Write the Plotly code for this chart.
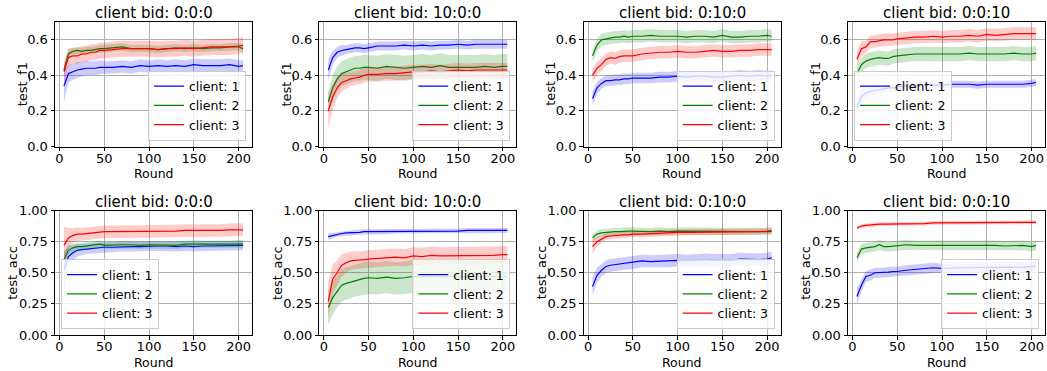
import plotly.graph_objects as go

ROUNDS = [5, 10, 15, 20, 25, 30, 35, 40, 45, 50, 60, 70, 80, 90, 100, 110, 120, 130, 140, 150, 160, 170, 180, 190, 200, 205]

# ---- test_f1, bid 0:0:0
f1_b000_c1 = [0.34, 0.41, 0.42, 0.43, 0.435, 0.44, 0.44, 0.44, 0.445, 0.445, 0.445, 0.45, 0.445, 0.455, 0.45, 0.455, 0.45, 0.455, 0.45, 0.46, 0.455, 0.455, 0.455, 0.46, 0.45, 0.455]
f1_b000_c1_sd = [0.09, 0.05, 0.045, 0.045, 0.04, 0.04, 0.04, 0.04, 0.04, 0.035, 0.035, 0.035, 0.035, 0.035, 0.035, 0.035, 0.035, 0.035, 0.035, 0.035, 0.035, 0.035, 0.035, 0.035, 0.035, 0.03]
f1_b000_c2 = [0.43, 0.52, 0.535, 0.54, 0.535, 0.54, 0.54, 0.545, 0.55, 0.55, 0.555, 0.56, 0.55, 0.55, 0.55, 0.545, 0.55, 0.555, 0.55, 0.555, 0.55, 0.555, 0.555, 0.56, 0.56, 0.55]
f1_b000_c2_sd = [0.03, 0.025, 0.02, 0.02, 0.02, 0.02, 0.02, 0.02, 0.02, 0.02, 0.02, 0.02, 0.02, 0.02, 0.02, 0.02, 0.02, 0.02, 0.02, 0.02, 0.02, 0.02, 0.02, 0.02, 0.02, 0.02]
f1_b000_c3 = [0.42, 0.50, 0.51, 0.51, 0.52, 0.52, 0.53, 0.53, 0.54, 0.54, 0.545, 0.55, 0.55, 0.55, 0.55, 0.545, 0.55, 0.55, 0.555, 0.55, 0.555, 0.56, 0.56, 0.56, 0.565, 0.57]
f1_b000_c3_sd = [0.06, 0.05, 0.045, 0.045, 0.045, 0.045, 0.045, 0.045, 0.045, 0.045, 0.045, 0.045, 0.045, 0.045, 0.045, 0.045, 0.045, 0.045, 0.045, 0.045, 0.045, 0.045, 0.045, 0.045, 0.045, 0.045]

# ---- test_f1, bid 10:0:0
f1_b100_c1 = [0.43, 0.50, 0.53, 0.54, 0.545, 0.55, 0.555, 0.555, 0.55, 0.555, 0.565, 0.565, 0.565, 0.57, 0.565, 0.57, 0.565, 0.57, 0.57, 0.575, 0.57, 0.575, 0.575, 0.575, 0.575, 0.575]
f1_b100_c1_sd = [0.06, 0.04, 0.03, 0.03, 0.025, 0.025, 0.025, 0.025, 0.025, 0.025, 0.025, 0.025, 0.025, 0.025, 0.025, 0.025, 0.025, 0.025, 0.025, 0.025, 0.025, 0.025, 0.025, 0.025, 0.025, 0.025]
f1_b100_c2 = [0.25, 0.33, 0.38, 0.41, 0.42, 0.43, 0.44, 0.44, 0.445, 0.445, 0.44, 0.45, 0.445, 0.44, 0.445, 0.45, 0.445, 0.455, 0.445, 0.445, 0.445, 0.445, 0.45, 0.445, 0.45, 0.45]
f1_b100_c2_sd = [0.06, 0.07, 0.07, 0.07, 0.07, 0.07, 0.07, 0.07, 0.07, 0.07, 0.07, 0.07, 0.07, 0.07, 0.07, 0.07, 0.07, 0.07, 0.07, 0.07, 0.07, 0.07, 0.07, 0.07, 0.07, 0.07]
f1_b100_c3 = [0.20, 0.28, 0.33, 0.36, 0.37, 0.38, 0.385, 0.39, 0.40, 0.405, 0.405, 0.41, 0.41, 0.415, 0.42, 0.42, 0.425, 0.42, 0.425, 0.43, 0.425, 0.43, 0.43, 0.43, 0.43, 0.43]
f1_b100_c3_sd = [0.10, 0.07, 0.06, 0.05, 0.045, 0.04, 0.04, 0.04, 0.04, 0.04, 0.04, 0.04, 0.04, 0.04, 0.04, 0.04, 0.04, 0.04, 0.04, 0.04, 0.04, 0.04, 0.04, 0.04, 0.04, 0.04]

# ---- test_f1, bid 0:10:0
f1_b010_c1 = [0.27, 0.33, 0.355, 0.37, 0.37, 0.375, 0.375, 0.38, 0.38, 0.385, 0.385, 0.385, 0.39, 0.39, 0.395, 0.39, 0.395, 0.395, 0.39, 0.39, 0.395, 0.40, 0.395, 0.40, 0.395, 0.40]
f1_b010_c1_sd = [0.04, 0.035, 0.03, 0.03, 0.03, 0.03, 0.03, 0.03, 0.03, 0.03, 0.03, 0.03, 0.03, 0.03, 0.03, 0.03, 0.03, 0.03, 0.03, 0.03, 0.03, 0.03, 0.03, 0.03, 0.03, 0.03]
f1_b010_c2 = [0.51, 0.57, 0.60, 0.605, 0.61, 0.615, 0.615, 0.62, 0.615, 0.62, 0.62, 0.625, 0.62, 0.62, 0.62, 0.615, 0.62, 0.62, 0.615, 0.625, 0.615, 0.615, 0.62, 0.62, 0.625, 0.62]
f1_b010_c2_sd = [0.035, 0.035, 0.035, 0.035, 0.035, 0.035, 0.035, 0.035, 0.035, 0.035, 0.035, 0.035, 0.035, 0.035, 0.035, 0.035, 0.035, 0.035, 0.035, 0.035, 0.035, 0.035, 0.035, 0.035, 0.035, 0.035]
f1_b010_c3 = [0.40, 0.44, 0.46, 0.49, 0.50, 0.495, 0.505, 0.51, 0.51, 0.51, 0.52, 0.525, 0.53, 0.53, 0.535, 0.53, 0.53, 0.535, 0.54, 0.535, 0.535, 0.54, 0.54, 0.545, 0.545, 0.545]
f1_b010_c3_sd = [0.04, 0.035, 0.035, 0.035, 0.035, 0.035, 0.035, 0.035, 0.035, 0.035, 0.035, 0.035, 0.035, 0.035, 0.035, 0.035, 0.035, 0.035, 0.035, 0.035, 0.035, 0.035, 0.035, 0.035, 0.035, 0.035]

# ---- test_f1, bid 0:0:10
f1_b001_c1 = [0.22, 0.28, 0.30, 0.31, 0.315, 0.32, 0.325, 0.33, 0.33, 0.335, 0.34, 0.34, 0.345, 0.345, 0.345, 0.35, 0.35, 0.35, 0.345, 0.35, 0.35, 0.35, 0.35, 0.35, 0.355, 0.36]
f1_b001_c1_sd = [0.05, 0.04, 0.03, 0.025, 0.02, 0.02, 0.02, 0.02, 0.02, 0.02, 0.02, 0.02, 0.02, 0.02, 0.02, 0.02, 0.02, 0.02, 0.02, 0.02, 0.02, 0.02, 0.02, 0.02, 0.02, 0.02]
f1_b001_c2 = [0.41, 0.46, 0.48, 0.49, 0.495, 0.50, 0.495, 0.495, 0.505, 0.51, 0.515, 0.52, 0.52, 0.52, 0.52, 0.52, 0.52, 0.525, 0.52, 0.52, 0.52, 0.52, 0.525, 0.52, 0.52, 0.525]
f1_b001_c2_sd = [0.04, 0.04, 0.04, 0.04, 0.04, 0.04, 0.04, 0.04, 0.04, 0.04, 0.04, 0.04, 0.04, 0.04, 0.04, 0.04, 0.04, 0.04, 0.04, 0.04, 0.04, 0.04, 0.04, 0.04, 0.04, 0.04]
f1_b001_c3 = [0.49, 0.55, 0.56, 0.59, 0.59, 0.595, 0.60, 0.60, 0.60, 0.605, 0.61, 0.615, 0.615, 0.62, 0.615, 0.62, 0.62, 0.625, 0.62, 0.63, 0.625, 0.63, 0.635, 0.635, 0.635, 0.635]
f1_b001_c3_sd = [0.04, 0.04, 0.035, 0.035, 0.035, 0.035, 0.035, 0.035, 0.035, 0.035, 0.035, 0.035, 0.035, 0.035, 0.035, 0.035, 0.035, 0.035, 0.035, 0.035, 0.035, 0.035, 0.035, 0.035, 0.035, 0.035]

# ---- test_acc, bid 0:0:0
acc_b000_c1 = [0.52, 0.63, 0.66, 0.68, 0.685, 0.69, 0.695, 0.70, 0.70, 0.705, 0.705, 0.71, 0.71, 0.71, 0.715, 0.715, 0.715, 0.71, 0.715, 0.71, 0.715, 0.715, 0.715, 0.715, 0.72, 0.72]
acc_b000_c1_sd = [0.15, 0.08, 0.06, 0.05, 0.045, 0.04, 0.04, 0.04, 0.04, 0.04, 0.04, 0.04, 0.04, 0.04, 0.04, 0.04, 0.04, 0.04, 0.04, 0.04, 0.04, 0.04, 0.04, 0.04, 0.04, 0.04]
acc_b000_c2 = [0.60, 0.68, 0.70, 0.71, 0.71, 0.715, 0.72, 0.725, 0.73, 0.72, 0.725, 0.725, 0.725, 0.72, 0.725, 0.725, 0.725, 0.72, 0.73, 0.73, 0.725, 0.725, 0.73, 0.73, 0.73, 0.73]
acc_b000_c2_sd = [0.06, 0.04, 0.03, 0.03, 0.03, 0.03, 0.03, 0.03, 0.03, 0.03, 0.03, 0.03, 0.03, 0.03, 0.03, 0.03, 0.03, 0.03, 0.03, 0.03, 0.03, 0.03, 0.03, 0.03, 0.03, 0.03]
acc_b000_c3 = [0.72, 0.78, 0.80, 0.81, 0.81, 0.815, 0.82, 0.82, 0.825, 0.83, 0.83, 0.83, 0.835, 0.83, 0.83, 0.835, 0.835, 0.835, 0.84, 0.84, 0.835, 0.84, 0.84, 0.845, 0.845, 0.845]
acc_b000_c3_sd = [0.15, 0.08, 0.06, 0.055, 0.05, 0.05, 0.05, 0.05, 0.05, 0.05, 0.05, 0.05, 0.05, 0.05, 0.05, 0.05, 0.05, 0.05, 0.05, 0.05, 0.05, 0.05, 0.05, 0.05, 0.05, 0.05]

# ---- test_acc, bid 10:0:0
acc_b100_c1 = [0.79, 0.80, 0.81, 0.815, 0.82, 0.82, 0.825, 0.825, 0.83, 0.83, 0.83, 0.83, 0.835, 0.835, 0.835, 0.835, 0.835, 0.835, 0.835, 0.835, 0.84, 0.84, 0.84, 0.84, 0.84, 0.84]
acc_b100_c1_sd = [0.025, 0.02, 0.02, 0.02, 0.02, 0.02, 0.02, 0.02, 0.02, 0.02, 0.02, 0.02, 0.02, 0.02, 0.02, 0.02, 0.02, 0.02, 0.02, 0.02, 0.02, 0.02, 0.02, 0.02, 0.02, 0.02]
acc_b100_c2 = [0.22, 0.30, 0.35, 0.40, 0.415, 0.425, 0.44, 0.445, 0.455, 0.46, 0.455, 0.465, 0.455, 0.46, 0.47, 0.465, 0.47, 0.465, 0.47, 0.47, 0.465, 0.47, 0.47, 0.47, 0.47, 0.47]
acc_b100_c2_sd = [0.14, 0.14, 0.13, 0.13, 0.13, 0.13, 0.13, 0.13, 0.13, 0.13, 0.13, 0.13, 0.13, 0.13, 0.13, 0.13, 0.13, 0.13, 0.13, 0.13, 0.13, 0.13, 0.13, 0.13, 0.13, 0.13]
acc_b100_c3 = [0.27, 0.45, 0.50, 0.56, 0.58, 0.595, 0.60, 0.60, 0.605, 0.61, 0.615, 0.62, 0.625, 0.62, 0.635, 0.63, 0.64, 0.635, 0.635, 0.64, 0.635, 0.635, 0.64, 0.64, 0.645, 0.645]
acc_b100_c3_sd = [0.15, 0.12, 0.10, 0.09, 0.08, 0.075, 0.07, 0.07, 0.07, 0.07, 0.07, 0.07, 0.07, 0.07, 0.07, 0.07, 0.07, 0.07, 0.07, 0.07, 0.07, 0.07, 0.07, 0.07, 0.07, 0.07]

# ---- test_acc, bid 0:10:0
acc_b010_c1 = [0.39, 0.48, 0.52, 0.55, 0.56, 0.565, 0.57, 0.575, 0.58, 0.58, 0.595, 0.59, 0.595, 0.595, 0.60, 0.595, 0.60, 0.605, 0.60, 0.60, 0.60, 0.61, 0.605, 0.605, 0.61, 0.62]
acc_b010_c1_sd = [0.07, 0.06, 0.05, 0.05, 0.05, 0.05, 0.05, 0.05, 0.05, 0.05, 0.05, 0.05, 0.05, 0.05, 0.05, 0.05, 0.05, 0.05, 0.05, 0.05, 0.05, 0.05, 0.05, 0.05, 0.05, 0.05]
acc_b010_c2 = [0.78, 0.81, 0.82, 0.825, 0.825, 0.83, 0.83, 0.835, 0.835, 0.835, 0.83, 0.83, 0.835, 0.83, 0.835, 0.835, 0.835, 0.83, 0.835, 0.835, 0.835, 0.835, 0.835, 0.835, 0.835, 0.83]
acc_b010_c2_sd = [0.03, 0.03, 0.03, 0.03, 0.03, 0.03, 0.03, 0.03, 0.03, 0.03, 0.03, 0.03, 0.03, 0.03, 0.03, 0.03, 0.03, 0.03, 0.03, 0.03, 0.03, 0.03, 0.03, 0.03, 0.03, 0.03]
acc_b010_c3 = [0.71, 0.75, 0.77, 0.79, 0.795, 0.80, 0.80, 0.805, 0.805, 0.81, 0.81, 0.815, 0.815, 0.82, 0.825, 0.825, 0.825, 0.825, 0.83, 0.83, 0.83, 0.83, 0.83, 0.83, 0.835, 0.84]
acc_b010_c3_sd = [0.06, 0.04, 0.03, 0.025, 0.025, 0.025, 0.025, 0.025, 0.025, 0.025, 0.025, 0.025, 0.025, 0.025, 0.025, 0.025, 0.025, 0.025, 0.025, 0.025, 0.025, 0.025, 0.025, 0.025, 0.025, 0.025]

# ---- test_acc, bid 0:0:10
acc_b001_c1 = [0.31, 0.40, 0.47, 0.48, 0.50, 0.50, 0.50, 0.505, 0.51, 0.51, 0.52, 0.525, 0.53, 0.54, 0.535, 0.54, 0.54, 0.54, 0.54, 0.54, 0.54, 0.54, 0.54, 0.545, 0.55, 0.555]
acc_b001_c1_sd = [0.07, 0.05, 0.045, 0.045, 0.04, 0.04, 0.04, 0.04, 0.04, 0.04, 0.04, 0.04, 0.04, 0.04, 0.04, 0.04, 0.04, 0.04, 0.04, 0.04, 0.04, 0.04, 0.04, 0.04, 0.04, 0.04]
acc_b001_c2 = [0.62, 0.69, 0.70, 0.705, 0.71, 0.725, 0.71, 0.71, 0.715, 0.715, 0.725, 0.72, 0.72, 0.725, 0.72, 0.72, 0.72, 0.72, 0.72, 0.72, 0.72, 0.715, 0.72, 0.72, 0.71, 0.72]
acc_b001_c2_sd = [0.04, 0.04, 0.04, 0.04, 0.04, 0.04, 0.04, 0.04, 0.04, 0.04, 0.04, 0.04, 0.04, 0.04, 0.04, 0.04, 0.04, 0.04, 0.04, 0.04, 0.04, 0.04, 0.04, 0.04, 0.04, 0.04]
acc_b001_c3 = [0.86, 0.875, 0.88, 0.885, 0.885, 0.89, 0.89, 0.89, 0.895, 0.895, 0.895, 0.895, 0.895, 0.90, 0.90, 0.90, 0.90, 0.90, 0.905, 0.905, 0.905, 0.905, 0.905, 0.905, 0.905, 0.905]
acc_b001_c3_sd = [0.015, 0.015, 0.015, 0.015, 0.015, 0.015, 0.015, 0.015, 0.015, 0.015, 0.015, 0.015, 0.015, 0.015, 0.015, 0.015, 0.015, 0.015, 0.015, 0.015, 0.015, 0.015, 0.015, 0.015, 0.015, 0.015]

CLIENT_NAMES = ["client: 1", "client: 2", "client: 3"]
BIDS = ["0:0:0", "10:0:0", "0:10:0", "0:0:10"]
F1_TICKS = [0.0, 0.2, 0.4, 0.6]
F1_TICKTEXT = ["0.0", "0.2", "0.4", "0.6"]
ACC_TICKS = [0.0, 0.25, 0.5, 0.75, 1.0]
ACC_TICKTEXT = ["0.00", "0.25", "0.50", "0.75", "1.00"]
X_TICKS = [0, 50, 100, 150, 200]

PANELS = [
    ("test_f1", BIDS[0], [(f1_b000_c1, f1_b000_c1_sd), (f1_b000_c2, f1_b000_c2_sd), (f1_b000_c3, f1_b000_c3_sd)], "right"),
    ("test_f1", BIDS[1], [(f1_b100_c1, f1_b100_c1_sd), (f1_b100_c2, f1_b100_c2_sd), (f1_b100_c3, f1_b100_c3_sd)], "right"),
    ("test_f1", BIDS[2], [(f1_b010_c1, f1_b010_c1_sd), (f1_b010_c2, f1_b010_c2_sd), (f1_b010_c3, f1_b010_c3_sd)], "right"),
    ("test_f1", BIDS[3], [(f1_b001_c1, f1_b001_c1_sd), (f1_b001_c2, f1_b001_c2_sd), (f1_b001_c3, f1_b001_c3_sd)], "left"),
    ("test_acc", BIDS[0], [(acc_b000_c1, acc_b000_c1_sd), (acc_b000_c2, acc_b000_c2_sd), (acc_b000_c3, acc_b000_c3_sd)], "left"),
    ("test_acc", BIDS[1], [(acc_b100_c1, acc_b100_c1_sd), (acc_b100_c2, acc_b100_c2_sd), (acc_b100_c3, acc_b100_c3_sd)], "right"),
    ("test_acc", BIDS[2], [(acc_b010_c1, acc_b010_c1_sd), (acc_b010_c2, acc_b010_c2_sd), (acc_b010_c3, acc_b010_c3_sd)], "right"),
    ("test_acc", BIDS[3], [(acc_b001_c1, acc_b001_c1_sd), (acc_b001_c2, acc_b001_c2_sd), (acc_b001_c3, acc_b001_c3_sd)], "right"),
]

LINE_COLORS = ["#0000ff", "#008000", "#ff0000"]
FILL_COLORS = ["rgba(0,0,255,0.2)", "rgba(0,128,0,0.2)", "rgba(255,0,0,0.2)"]

W, H = 1047, 371
FONT = "DejaVu Sans"
COL_LEFT = [55, 319.3, 583.6, 848]
AX_W = 197
ROW_TOP = [22, 210.5]
AX_H = 124.5


def px_x(p):
    return p / W


def px_y(p):
    return 1 - p / H


fig = go.Figure()
annotations = []
layout = dict(
    template="none",
    width=W, height=H, margin=dict(l=0, r=0, t=0, b=0, pad=0, autoexpand=False),
    paper_bgcolor="white", plot_bgcolor="white",
    font=dict(family=FONT, size=13, color="black"),
    showlegend=True,
)

for i, (metric, bid, series, legend_side) in enumerate(PANELS):
    row, col = divmod(i, 4)
    n = i + 1
    xa = "x" if n == 1 else f"x{n}"
    ya = "y" if n == 1 else f"y{n}"
    legend_name = "legend" if n == 1 else f"legend{n}"
    left, right = COL_LEFT[col], COL_LEFT[col] + AX_W
    top, bottom = ROW_TOP[row], ROW_TOP[row] + AX_H

    for k, (mean, sd) in enumerate(series):
        upper = [m + s for m, s in zip(mean, sd)]
        lower = [m - s for m, s in zip(mean, sd)]
        fig.add_trace(go.Scatter(
            x=ROUNDS + ROUNDS[::-1], y=upper + lower[::-1],
            fill="toself", fillcolor=FILL_COLORS[k], line=dict(width=0),
            mode="lines", hoverinfo="skip", showlegend=False,
            xaxis=xa, yaxis=ya,
        ))
        fig.add_trace(go.Scatter(
            x=ROUNDS, y=mean, mode="lines", name=CLIENT_NAMES[k],
            line=dict(color=LINE_COLORS[k], width=1.2),
            xaxis=xa, yaxis=ya, legend=legend_name, showlegend=True,
        ))

    axis_common = dict(
        automargin=False,
        showline=True, mirror=True, linecolor="black", linewidth=1,
        ticks="outside", ticklen=3.5, tickwidth=1, tickcolor="black",
        showgrid=True, gridcolor="#b0b0b0", gridwidth=0.8, zeroline=False,
        tickfont=dict(family=FONT, size=13, color="black"),
    )
    layout["xaxis" if n == 1 else f"xaxis{n}"] = dict(
        axis_common, domain=[px_x(left), px_x(right)], range=[-5, 215],
        tickvals=X_TICKS, anchor=ya, ticklabelstandoff=-4,
    )
    if metric == "test_f1":
        yt = dict(range=[0, 0.7], tickvals=F1_TICKS, ticktext=F1_TICKTEXT)
    else:
        yt = dict(range=[0, 1.0], tickvals=ACC_TICKS, ticktext=ACC_TICKTEXT)
    layout["yaxis" if n == 1 else f"yaxis{n}"] = dict(
        axis_common, domain=[px_y(bottom), px_y(top)], anchor=xa, **yt,
    )

    # title
    annotations.append(dict(
        text=f"client bid: {bid}", x=px_x((left + right) / 2), y=px_y(top - 9),
        xref="paper", yref="paper", xanchor="center", yanchor="middle",
        showarrow=False, font=dict(family=FONT, size=15, color="black"),
    ))
    # x label
    annotations.append(dict(
        text="Round", x=px_x((left + right) / 2), y=px_y(bottom + 27),
        xref="paper", yref="paper", xanchor="center", yanchor="middle",
        showarrow=False, font=dict(family=FONT, size=12.5, color="black"),
    ))
    # y label
    yl_off = 33 if metric == "test_f1" else 42
    annotations.append(dict(
        text=metric, x=px_x(left - yl_off), y=px_y((top + bottom) / 2),
        xref="paper", yref="paper", xanchor="center", yanchor="middle",
        textangle=-90, showarrow=False,
        font=dict(family=FONT, size=13, color="black"),
    ))

    # legend
    if legend_side == "right":
        lx, lxa = px_x(right - 6), "right"
    else:
        lx, lxa = px_x(left + 6), "left"
    layout[legend_name] = dict(
        x=lx, xanchor=lxa, y=px_y(bottom - 6), yanchor="bottom",
        bgcolor="rgba(255,255,255,0.8)", bordercolor="#cccccc", borderwidth=1,
        font=dict(family=FONT, size=12.5, color="black"),
        itemwidth=30, tracegroupgap=0,
    )

layout["annotations"] = annotations
fig.update_layout(**layout)
fig.write_html(
    "out.html",
    config={"displayModeBar": False},
    post_script="document.body.style.margin='0';document.body.style.overflow='hidden';",
)
